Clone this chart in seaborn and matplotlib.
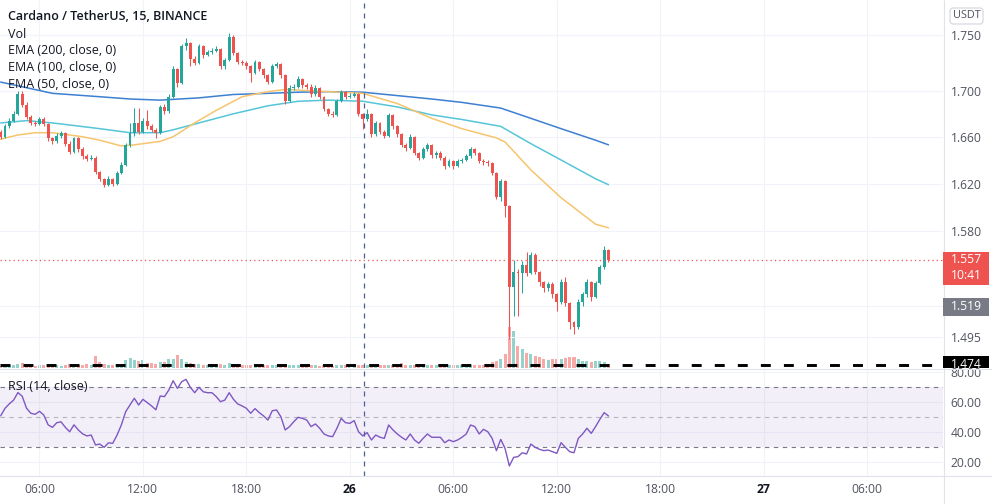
import matplotlib
matplotlib.use("Agg")
import matplotlib.pyplot as plt
from matplotlib.lines import Line2D
from matplotlib.patches import Rectangle, FancyBboxPatch
from matplotlib.transforms import IdentityTransform
from matplotlib.ticker import NullLocator, FixedLocator, FixedFormatter
import numpy as np
import pandas as pd
import seaborn as sns

# ---------------- data (15-min candles, 25th 03:45 -> 26th 15:00) ----------------
opens = [1.664, 1.660, 1.669, 1.674, 1.680, 1.697, 1.688, 1.677, 1.672, 1.671,
         1.675, 1.671, 1.659, 1.656, 1.661, 1.663, 1.654, 1.647, 1.659, 1.649,
         1.643, 1.641, 1.642, 1.630, 1.624, 1.619, 1.624, 1.620, 1.629, 1.636,
         1.653, 1.663, 1.672, 1.664, 1.674, 1.669, 1.666, 1.663, 1.686, 1.682,
         1.695, 1.720, 1.707, 1.740, 1.743, 1.729, 1.725, 1.740, 1.732, 1.735,
         1.736, 1.738, 1.722, 1.728, 1.749, 1.734, 1.726, 1.725, 1.722, 1.716,
         1.726, 1.720, 1.714, 1.708, 1.722, 1.724, 1.714, 1.691, 1.703, 1.704,
         1.711, 1.705, 1.704, 1.697, 1.703, 1.695, 1.684, 1.680, 1.679, 1.691,
         1.699, 1.695, 1.696, 1.697, 1.680, 1.675, 1.680, 1.662, 1.672, 1.664,
         1.661, 1.679, 1.669, 1.662, 1.653, 1.650, 1.660, 1.646, 1.642, 1.649,
         1.653, 1.644, 1.646, 1.642, 1.635, 1.639, 1.635, 1.639, 1.640, 1.643,
         1.649, 1.646, 1.639, 1.638, 1.637, 1.629, 1.609, 1.622, 1.601, 1.535,
         1.547, 1.546, 1.553, 1.546, 1.561, 1.547, 1.539, 1.534, 1.537, 1.529,
         1.523, 1.539, 1.522, 1.507, 1.503, 1.523, 1.529, 1.539, 1.527, 1.538,
         1.551, 1.565]

closes = [1.660, 1.669, 1.674, 1.680, 1.697, 1.688, 1.677, 1.672, 1.671, 1.675,
          1.671, 1.659, 1.656, 1.661, 1.663, 1.654, 1.647, 1.659, 1.649, 1.643,
          1.641, 1.642, 1.630, 1.624, 1.619, 1.624, 1.620, 1.629, 1.636, 1.653,
          1.663, 1.672, 1.664, 1.674, 1.669, 1.666, 1.663, 1.686, 1.682, 1.695,
          1.720, 1.707, 1.740, 1.743, 1.729, 1.725, 1.740, 1.732, 1.735, 1.736,
          1.738, 1.722, 1.728, 1.749, 1.734, 1.726, 1.725, 1.722, 1.716, 1.726,
          1.720, 1.714, 1.708, 1.722, 1.724, 1.714, 1.691, 1.703, 1.704, 1.711,
          1.705, 1.704, 1.697, 1.703, 1.695, 1.684, 1.680, 1.679, 1.691, 1.699,
          1.695, 1.696, 1.697, 1.680, 1.675, 1.680, 1.662, 1.672, 1.664, 1.661,
          1.679, 1.669, 1.662, 1.653, 1.650, 1.660, 1.646, 1.642, 1.649, 1.653,
          1.644, 1.646, 1.642, 1.635, 1.639, 1.635, 1.639, 1.640, 1.643, 1.649,
          1.646, 1.639, 1.638, 1.637, 1.629, 1.609, 1.622, 1.601, 1.535, 1.547,
          1.546, 1.553, 1.546, 1.561, 1.547, 1.539, 1.534, 1.537, 1.529, 1.523,
          1.539, 1.522, 1.507, 1.503, 1.523, 1.529, 1.539, 1.527, 1.538, 1.551,
          1.565, 1.557]

highs = [1.666, 1.671, 1.676, 1.682, 1.700, 1.700, 1.690, 1.679, 1.674, 1.677,
         1.677, 1.672, 1.660, 1.663, 1.665, 1.664, 1.656, 1.660, 1.660, 1.651,
         1.645, 1.644, 1.643, 1.631, 1.625, 1.626, 1.625, 1.631, 1.638, 1.655,
         1.672, 1.685, 1.685, 1.676, 1.683, 1.671, 1.668, 1.688, 1.689, 1.697,
         1.722, 1.721, 1.742, 1.748, 1.744, 1.731, 1.742, 1.741, 1.737, 1.739,
         1.740, 1.739, 1.730, 1.752, 1.750, 1.735, 1.728, 1.727, 1.723, 1.728,
         1.727, 1.721, 1.715, 1.724, 1.726, 1.725, 1.715, 1.705, 1.706, 1.713,
         1.712, 1.707, 1.706, 1.705, 1.704, 1.696, 1.685, 1.682, 1.693, 1.701,
         1.700, 1.698, 1.699, 1.698, 1.681, 1.684, 1.681, 1.674, 1.673, 1.666,
         1.681, 1.680, 1.670, 1.663, 1.655, 1.662, 1.661, 1.647, 1.651, 1.655,
         1.654, 1.648, 1.648, 1.643, 1.641, 1.640, 1.641, 1.642, 1.645, 1.651,
         1.650, 1.647, 1.641, 1.640, 1.638, 1.630, 1.624, 1.623, 1.602, 1.557,
         1.549, 1.556, 1.563, 1.563, 1.562, 1.548, 1.540, 1.539, 1.539, 1.530,
         1.541, 1.543, 1.523, 1.508, 1.525, 1.531, 1.541, 1.540, 1.540, 1.553,
         1.568, 1.566]

lows = [1.658, 1.659, 1.668, 1.673, 1.679, 1.686, 1.675, 1.670, 1.669, 1.670,
        1.669, 1.656, 1.654, 1.655, 1.659, 1.652, 1.645, 1.646, 1.647, 1.641,
        1.639, 1.640, 1.628, 1.622, 1.617, 1.618, 1.618, 1.619, 1.628, 1.635,
        1.651, 1.661, 1.662, 1.663, 1.667, 1.664, 1.659, 1.662, 1.680, 1.681,
        1.694, 1.704, 1.706, 1.737, 1.722, 1.723, 1.724, 1.730, 1.731, 1.733,
        1.735, 1.720, 1.720, 1.727, 1.732, 1.724, 1.723, 1.720, 1.708, 1.715,
        1.718, 1.712, 1.706, 1.707, 1.721, 1.712, 1.689, 1.690, 1.701, 1.703,
        1.703, 1.702, 1.695, 1.696, 1.693, 1.682, 1.678, 1.677, 1.678, 1.690,
        1.693, 1.694, 1.695, 1.678, 1.667, 1.674, 1.660, 1.661, 1.662, 1.659,
        1.660, 1.667, 1.660, 1.651, 1.648, 1.649, 1.644, 1.640, 1.641, 1.648,
        1.642, 1.642, 1.640, 1.632, 1.634, 1.632, 1.634, 1.637, 1.639, 1.642,
        1.644, 1.637, 1.636, 1.635, 1.627, 1.607, 1.605, 1.592, 1.494, 1.512,
        1.512, 1.530, 1.544, 1.545, 1.545, 1.536, 1.531, 1.532, 1.526, 1.516,
        1.521, 1.520, 1.502, 1.498, 1.502, 1.520, 1.527, 1.524, 1.526, 1.537,
        1.549, 1.555]

# relative volume (arbitrary units)
volume = [2, 2, 3, 3, 4, 5, 3, 3, 2, 3,
          3, 4, 3, 3, 2, 3, 4, 3, 3, 3,
          4, 3, 12, 6, 4, 3, 3, 4, 4, 8,
          10, 8, 7, 8, 5, 5, 4, 6, 6, 9,
          9, 13, 9, 6, 5, 4, 4, 3, 3, 4,
          4, 4, 3, 5, 4, 3, 3, 3, 3, 3,
          3, 3, 3, 3, 3, 3, 4, 3, 3, 3,
          3, 3, 3, 3, 2, 3, 3, 2, 3, 3,
          3, 3, 3, 3, 3, 3, 3, 3, 3, 3,
          3, 3, 3, 5, 3, 3, 3, 3, 3, 3,
          3, 3, 3, 3, 3, 3, 3, 3, 3, 3,
          3, 3, 3, 4, 6, 7, 9, 14, 41, 37,
          22, 19, 15, 14, 12, 11, 9, 8, 9, 9,
          9, 10, 11, 11, 9, 7, 7, 6, 7, 7,
          6, 4]

rsi = [51, 56, 59, 61.5, 66.5, 64, 56, 52.7, 52, 54,
       51.5, 45, 43.3, 46.4, 47, 43.3, 40.4, 45, 41.6, 39,
       37.6, 38.2, 31.6, 32.2, 30, 33, 32.7, 38.2, 45, 53.8,
       58.2, 62.7, 58.2, 62, 59.8, 57.6, 55, 64.2, 63.8, 68.2,
       74.4, 69.3, 73.8, 75.3, 70, 66.4, 70, 67, 66.4, 66.4,
       63.8, 60.4, 61.5, 66.4, 62, 58.9, 57.6, 56, 52.7, 55.8,
       53.1, 50.9, 48.2, 54.4, 54.9, 50.4, 41.6, 43.8, 47.1, 50,
       49.3, 48.2, 43.8, 45.6, 42.7, 38.9, 37.6, 37.1, 42.7, 49.3,
       46.4, 46, 47.8, 40.4, 37.6, 39.8, 34.9, 38.2, 36.7, 36,
       44.9, 41.6, 38.9, 36.7, 34.9, 38.9, 34.9, 32.7, 36, 38.9,
       36.7, 36.7, 36.7, 33.1, 34.9, 33.8, 34.9, 36.7, 38.9, 44.9,
       43.8, 38.9, 42, 40.4, 36, 27.8, 35.3, 29.3, 17.6, 23.3,
       23.8, 26.4, 25.6, 32.2, 30, 28.7, 27.8, 28.2, 27.1, 26,
       33.1, 30, 27.1, 26.4, 36, 38.9, 42.7, 39.3, 43.8, 48.7,
       53.1, 50.9]

ema200_idx = [0, 12, 23, 30, 37, 46, 54, 62, 69, 76, 84, 92, 100, 107, 116, 123, 130, 138, 141]
ema200 = [1.708, 1.698, 1.695, 1.693, 1.692, 1.694, 1.697, 1.698, 1.699, 1.6995, 1.699,
          1.696, 1.693, 1.690, 1.685, 1.676, 1.667, 1.657, 1.653]

ema100_idx = [0, 6, 12, 23, 30, 37, 40, 46, 54, 62, 69, 76, 84, 92, 100, 107, 116, 123, 130, 138, 141]
ema100 = [1.672, 1.674, 1.672, 1.667, 1.6635, 1.6635, 1.666, 1.672, 1.680, 1.687, 1.691,
          1.692, 1.691, 1.686, 1.679, 1.675, 1.669, 1.654, 1.640, 1.624, 1.619]

ema50_idx = [0, 4, 8, 12, 19, 23, 28, 31, 37, 40, 45, 50, 56, 62, 66, 76, 84, 92, 100, 107,
             115, 117, 123, 130, 138, 141]
ema50 = [1.658, 1.6615, 1.6635, 1.6635, 1.660, 1.657, 1.652, 1.653, 1.656, 1.660, 1.672,
         1.683, 1.695, 1.6995, 1.7015, 1.6995, 1.698, 1.689, 1.676, 1.667, 1.659, 1.6555,
         1.6315, 1.608, 1.586, 1.583]

time_ticks = [9, 33, 57, 81, 105, 129, 153, 177, 201]
time_labels = ["06:00", "12:00", "18:00", "26", "06:00", "12:00", "18:00", "27", "06:00"]
price_ticks = [1.495, 1.520, 1.580, 1.620, 1.660, 1.700, 1.750]
price_labels = ["1.495", "1.520", "1.580", "1.620", "1.660", "1.700", "1.750"]
rsi_ticks = [20, 40, 60, 80]
rsi_labels = ["20.00", "40.00", "60.00", "80.00"]
last_price = 1.557
last_price_text = ["1.557", "10:41"]
mark_price = 1.519
line_price = 1.474
crosshair_idx = 84.3

# ---------------- style ----------------
sns.set_theme(style="white")
plt.rcParams["font.family"] = ["Open Sans", "DejaVu Sans"]

UP, DN = "#26a69a", "#ef5350"
UP_V, DN_V = "#93d3cc", "#f7a9a8"
GRID = "#f0f3fa"
SEP = "#e0e3eb"
TXT = "#131722"
TICK = "#50535e"

W, H = 992, 504
fig = plt.figure(figsize=(W / 100, H / 100), dpi=100)
fig.patch.set_facecolor("white")


def rect(x0, y0, x1, y1):
    return [x0 / W, 1 - y1 / H, (x1 - x0) / W, (y1 - y0) / H]


ax = fig.add_axes(rect(0, 0, 943, 368))
ax_vol = ax.twinx()
ax.set_zorder(ax_vol.get_zorder() + 1)
ax.patch.set_visible(False)
ax_rsi = fig.add_axes(rect(0, 369, 943, 476), sharex=ax)
ax_lab = fig.add_axes(rect(943, 0, 992, 368))
ax_lab.set_zorder(5)
ax_lab.axis("off")

n = len(closes)
x = np.arange(n)
o = np.array(opens)
c = np.array(closes)
h = np.array(highs)
l = np.array(lows)
up = c >= o
cols = np.where(up, UP, DN)

# volume
ax_vol.bar(x, volume, width=0.7, color=np.where(up, UP_V, DN_V), linewidth=0)
ax_vol.set_ylim(0, 368)
ax_vol.set_yticks([])
ax_vol.tick_params(right=False, labelright=False)

# price scale
ax.set_yscale("log")
ax.set_ylim(1.4714, 1.7827)
ax.set_xlim(-0.16, 218.6)

# EMA lines
sns.lineplot(x=ema200_idx, y=ema200, ax=ax, color="#3d7fd1", linewidth=1.1, zorder=2)
sns.lineplot(x=ema100_idx, y=ema100, ax=ax, color="#55c5d8", linewidth=1.1, zorder=2)
sns.lineplot(x=ema50_idx, y=ema50, ax=ax, color="#f7c46e", linewidth=1.1, zorder=2)

# candles
ax.vlines(x, l, h, colors=cols, linewidth=0.75, zorder=3)
body_lo = np.minimum(o, c)
body_h = np.maximum(np.abs(c - o), 0.0007)
ax.bar(x, body_h, bottom=body_lo, width=0.68, color=cols, linewidth=0, zorder=4)

ax.axhline(last_price, color=DN, lw=0.9, ls=(0, (1, 2.5)), zorder=5)
ax.axhline(line_price, color="black", lw=2.1, ls=(0, (3.4, 4.5)), zorder=5)
ax.axvline(crosshair_idx, color="#4f5d9b", lw=0.9, ls=(0, (4, 4)), zorder=6)

ax.yaxis.tick_right()
ax.yaxis.set_major_locator(FixedLocator(price_ticks))
ax.yaxis.set_major_formatter(FixedFormatter(price_labels))
ax.yaxis.set_minor_locator(NullLocator())
ax.tick_params(axis="y", which="both", length=0, pad=5.5, labelsize=8.7,
               labelcolor=TICK, labelright=True, labelleft=False)
ax.tick_params(axis="x", length=0, labelbottom=False)
ax.grid(True, color=GRID, linewidth=0.8)
ax.set_axisbelow(True)
ax.set_xlabel("")
ax.set_ylabel("")

# RSI pane
ax_rsi.set_ylim(10.9, 82.2)
ax_rsi.axhspan(30, 70, color="#7e57c2", alpha=0.09, linewidth=0)
ax_rsi.axhline(70, color="#787b86", lw=0.8, ls=(0, (4, 4)))
ax_rsi.axhline(50, color="#787b86", lw=0.8, ls=(0, (4, 4)), alpha=0.5)
ax_rsi.axhline(30, color="#787b86", lw=0.8, ls=(0, (4, 4)))
df_rsi = pd.DataFrame({"idx": x, "rsi": rsi})
sns.lineplot(data=df_rsi, x="idx", y="rsi", ax=ax_rsi, color="#7e57c2", linewidth=1.0)
ax_rsi.axvline(crosshair_idx, color="#4f5d9b", lw=0.9, ls=(0, (4, 4)), zorder=6)
ax_rsi.yaxis.tick_right()
ax_rsi.set_yticks(rsi_ticks, labels=rsi_labels)
ax_rsi.set_xticks(time_ticks, labels=time_labels)
ax_rsi.tick_params(axis="y", length=0, pad=5.5, labelsize=8.7, labelcolor=TICK,
                   labelright=True, labelleft=False)
ax_rsi.tick_params(axis="x", length=0, pad=5, labelsize=8.7, labelcolor=TICK)
for t in ax_rsi.get_xticklabels():
    if t.get_text() in ("26", "27"):
        t.set_fontweight("bold")
        t.set_color(TXT)
ax_rsi.grid(True, color=GRID, linewidth=0.8)
ax_rsi.set_axisbelow(True)
ax_rsi.set_xlabel("")
ax_rsi.set_ylabel("")
ax_rsi.set_xlim(-0.16, 218.6)

for a in (ax, ax_vol, ax_rsi):
    for s in a.spines.values():
        s.set_visible(False)

# separators
for (x0, y0, x1, y1) in [(943.5, 0, 943.5, 504), (0, 368.5, 992, 368.5), (0, 476, 992, 476)]:
    fig.add_artist(Line2D([x0 / W, x1 / W], [1 - y0 / H, 1 - y1 / H],
                          transform=fig.transFigure, color=SEP, lw=0.8))

# price tags on the right scale
idt = IdentityTransform()


def tag(price, lines, fc, above, below):
    yc = ax.transData.transform((0, price))[1]
    ax_lab.add_patch(Rectangle((943, yc - below), 46, above + below, transform=idt,
                               facecolor=fc, edgecolor="none", zorder=2))
    for k, s in enumerate(lines):
        ax_lab.text(966, yc - 16 * k, s, transform=idt, ha="center", va="center",
                    color="white", fontsize=8.7, zorder=3)


tag(last_price, last_price_text, DN, 8, 25)
tag(mark_price, ["1.519"], "#787b86", 9, 9)
tag(line_price, ["1.474"], "black", 9, 9)

ax_lab.add_patch(FancyBboxPatch((950, H - 24), 33, 16, boxstyle="round,pad=0,rounding_size=3",
                                transform=idt, facecolor="white", edgecolor="#d1d4dc", lw=0.8))
ax_lab.text(966.5, H - 16, "USDT", transform=idt, ha="center", va="center",
            fontsize=7.8, color=TICK)

# legend texts
fig.text(8 / W, 1 - 17 / H, "Cardano / TetherUS, 15, BINANCE", fontsize=9,
         fontweight="semibold", color=TXT, va="center")
for yy, s in [(34, "Vol"), (51, "EMA (200, close, 0)"), (67.5, "EMA (100, close, 0)"),
              (84.5, "EMA (50, close, 0)")]:
    fig.text(8 / W, 1 - yy / H, s, fontsize=9, color=TXT, va="center")
fig.text(8 / W, 1 - 386 / H, "RSI (14, close)", fontsize=9, color=TXT, va="center")

fig.savefig("out.png", dpi=100, facecolor="white")
